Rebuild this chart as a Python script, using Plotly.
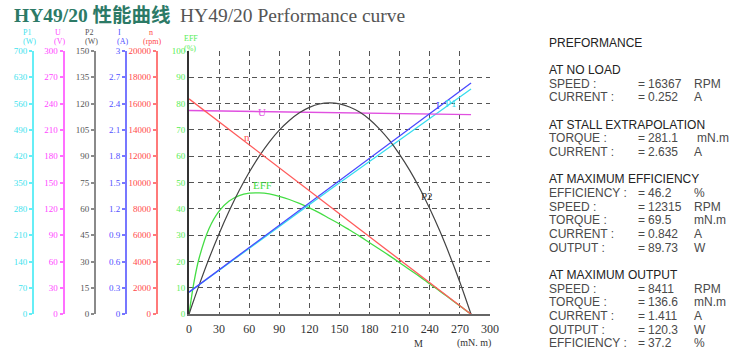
import plotly.graph_objects as go

W, H = 732, 357

# ---------------- data ----------------
torque = [0, 5, 10, 20, 30, 40, 50, 60, 70, 80, 90, 100, 110, 120, 130, 140,
          150, 160, 170, 180, 190, 200, 210, 220, 230, 240, 250, 260, 270, 281.1]
p2_w = [0, 8.4, 16.5, 31.8, 45.9, 58.8, 70.5, 80.9, 90.1, 98.1, 104.9, 110.4,
        114.8, 117.9, 119.8, 120.4, 119.9, 118.1, 115.2, 111.0, 105.5, 98.9,
        91.0, 82.0, 71.7, 60.1, 47.4, 33.4, 18.3, 0]
eff_pct = [0, 12.3, 21.2, 32.6, 39.2, 43.0, 45.1, 46.0, 46.1, 45.7, 44.8, 43.6,
           42.1, 40.4, 38.5, 36.4, 34.3, 32.0, 29.7, 27.2, 24.7, 22.2, 19.6,
           16.9, 14.3, 11.5, 8.8, 6.0, 3.2, 0]

line_torque = [0, 140, 281.1]
speed_rpm = [16367, 8215, 0]
current_a = [0.252, 1.439, 2.635]
voltage_v = [232.2, 229.8, 227.4]
p1_w = [58.5, 330.7, 599.2]

x_ticks = [0, 30, 60, 90, 120, 150, 180, 210, 240, 270, 300]

# side axes: name, unit, max, step, label color, axis line color
side_axes = [
    ("P1", "(W)", 700, 70, "#3fe3ee", "#66eef6"),
    ("U", "(V)", 300, 30, "#ff45ff", "#ff70ff"),
    ("P2", "(W)", 150, 15, "#555555", "#8a8a8a"),
    ("I", "(A)", 3, 0.3, "#5050ff", "#7777ff"),
    ("n", "(rpm)", 20000, 2000, "#ff4848", "#ff7a7a"),
]
axis_px = [33, 63.5, 95, 126, 156.7]

perf_lines = [
    ("PREFORMANCE", "", "", "", True),
    ("", "", "", "", False),
    ("AT NO LOAD", "", "", "", True),
    ("SPEED :", "=", "16367", "RPM", False),
    ("CURRENT :", "=", "0.252", "A", False),
    ("", "", "", "", False),
    ("AT STALL EXTRAPOLATION", "", "", "", True),
    ("TORQUE :", "=", "281.1", "mN.m", False),
    ("CURRENT :", "=", "2.635", "A", False),
    ("", "", "", "", False),
    ("AT MAXIMUM EFFICIENCY", "", "", "", True),
    ("EFFICIENCY :", "=", "46.2", "%", False),
    ("SPEED :", "=", "12315", "RPM", False),
    ("TORQUE :", "=", "69.5", "mN.m", False),
    ("CURRENT :", "=", "0.842", "A", False),
    ("OUTPUT :", "=", "89.73", "W", False),
    ("", "", "", "", False),
    ("AT MAXIMUM OUTPUT", "", "", "", True),
    ("SPEED :", "=", "8411", "RPM", False),
    ("TORQUE :", "=", "136.6", "mN.m", False),
    ("CURRENT :", "=", "1.411", "A", False),
    ("OUTPUT :", "=", "120.3", "W", False),
    ("EFFICIENCY :", "=", "37.2", "%", False),
]


def px(x):
    return x / W


def py(y):
    return 1 - y / H


SERIF = "Liberation Serif, DejaVu Serif, serif"
SANS = "Liberation Sans, Arial, sans-serif"

x_dom = [px(189), px(490)]
y_dom = [py(314.3), py(51)]

fig = go.Figure()

fig.add_trace(go.Scatter(x=line_torque, y=speed_rpm, yaxis="y6", mode="lines",
                         line=dict(color="#ff5a5a", width=1.3)))
fig.add_trace(go.Scatter(x=line_torque, y=voltage_v, yaxis="y3", mode="lines",
                         line=dict(color="#e050e0", width=1.3)))
fig.add_trace(go.Scatter(x=torque, y=p2_w, yaxis="y4", mode="lines",
                         line=dict(color="#444444", width=1.2, shape="spline")))
fig.add_trace(go.Scatter(x=line_torque, y=current_a, yaxis="y5", mode="lines",
                         line=dict(color="#4848ff", width=1.3)))
fig.add_trace(go.Scatter(x=line_torque, y=p1_w, yaxis="y2", mode="lines",
                         line=dict(color="#38dcee", width=1.3)))
fig.add_trace(go.Scatter(x=torque, y=eff_pct, yaxis="y", mode="lines",
                         line=dict(color="#44dd44", width=1.3, shape="spline")))

layout = dict(
    width=W, height=H, margin=dict(l=0, r=0, t=0, b=0, autoexpand=False),
    paper_bgcolor="white", plot_bgcolor="white", showlegend=False,
    xaxis=dict(domain=x_dom, range=[0, 300], tickvals=x_ticks,
               showgrid=True, gridcolor="#555555", griddash="5px,4px", gridwidth=1,
               showline=True, linecolor="#666666", linewidth=2, zeroline=False,
               ticks="outside", ticklen=2, tickcolor="rgba(0,0,0,0)",
               tickfont=dict(family=SERIF, size=12, color="#333333")),
    yaxis=dict(domain=y_dom, range=[0, 100], dtick=10,
               showgrid=True, gridcolor="#555555", griddash="5px,4px", gridwidth=1,
               showline=True, linecolor="#333333", linewidth=2, zeroline=False,
               ticks="", tickfont=dict(family=SERIF, size=9, color="#55ee55")),
)

annotations = []
for i, (name, unit, mx, step, col, lcol) in enumerate(side_axes):
    key = "yaxis%d" % (i + 2)
    layout[key] = dict(
        domain=y_dom, overlaying="y", anchor="free", position=px(axis_px[i]),
        side="left", range=[0, mx], dtick=step, showgrid=False, zeroline=False,
        showline=True, linecolor=lcol, linewidth=2, tickformat="~r",
        ticks="outside", ticklen=3, tickwidth=1.5, tickcolor=lcol,
        tickfont=dict(family=SERIF, size=9, color=col),
    )
    annotations.append(dict(x=px(axis_px[i] - 6), y=py(32), xref="paper", yref="paper",
                            text=name, showarrow=False, xanchor="center", yanchor="middle",
                            font=dict(family=SERIF, size=8, color=col)))
    annotations.append(dict(x=px(axis_px[i] - 4), y=py(41.5), xref="paper", yref="paper",
                            text=unit, showarrow=False, xanchor="center", yanchor="middle",
                            font=dict(family=SERIF, size=8, color=col)))
layout["yaxis5"]["tickformat"] = ".1~f"
layout["yaxis6"]["tickformat"] = "d"

# EFF header
annotations.append(dict(x=px(182), y=py(32), xref="paper", yref="paper", text="EFF",
                        showarrow=False, font=dict(family=SERIF, size=8, color="#55ee55")))
annotations.append(dict(x=px(182), y=py(41.5), xref="paper", yref="paper", text="(%)",
                        showarrow=False, font=dict(family=SERIF, size=8, color="#55ee55")))

# Titles
annotations.append(dict(x=px(12), y=py(15.5), xref="paper", yref="paper",
                        text="<b>HY49/20 性能曲线</b>", showarrow=False, xanchor="left",
                        yanchor="middle",
                        font=dict(family="Liberation Serif, Noto Sans CJK SC", size=19.5,
                                  color="#2c7a66")))
annotations.append(dict(x=px(178), y=py(15.5), xref="paper", yref="paper",
                        text="HY49/20 Performance curve", showarrow=False, xanchor="left",
                        yanchor="middle", font=dict(family=SERIF, size=19.5, color="#555555")))

# x-axis unit
annotations.append(dict(x=px(418), y=py(349.5), xref="paper", yref="paper", text="M",
                        showarrow=False, borderpad=0,
                        font=dict(family=SERIF, size=10, color="#333333")))
annotations.append(dict(x=px(474), y=py(349.5), xref="paper", yref="paper", text="(mN. m)",
                        showarrow=False, borderpad=0,
                        font=dict(family=SERIF, size=10, color="#333333")))

# curve labels
for txt, xx, yy, col in [("U", 261.5, 104, "#e050e0"), ("n", 247, 137, "#ff5050"),
                         ("I", 438, 97, "#4848ff"), ("P1", 451, 95, "#38dcee"),
                         ("EFF", 262, 185, "#44dd44"), ("P2", 427, 196, "#333333")]:
    annotations.append(dict(x=px(xx), y=py(yy), xref="paper", yref="paper", text=txt,
                            showarrow=False, font=dict(family=SERIF, size=11, color=col)))

# performance panel
y0, dy = 42.5, 13.67
for k, (lab, eq, val, unit, head) in enumerate(perf_lines):
    yy = y0 + k * dy
    col = "#222222" if head else "#4a4a4a"
    for txt, xx in [(lab, 547), (eq, 636), (val, 646), (unit, 692)]:
        if txt:
            if txt == "mN.m" and val == "281.1":
                xx = 695
            annotations.append(dict(x=px(xx), y=py(yy), xref="paper", yref="paper",
                                    text=txt, showarrow=False, xanchor="left",
                                    yanchor="middle",
                                    font=dict(family=SANS, size=12, color=col)))

layout["annotations"] = annotations
fig.update_layout(**layout)

fig.write_html("out.html", config={"displayModeBar": False},
               post_script="document.body.style.margin='0';"
                           "document.body.style.overflow='hidden';")
